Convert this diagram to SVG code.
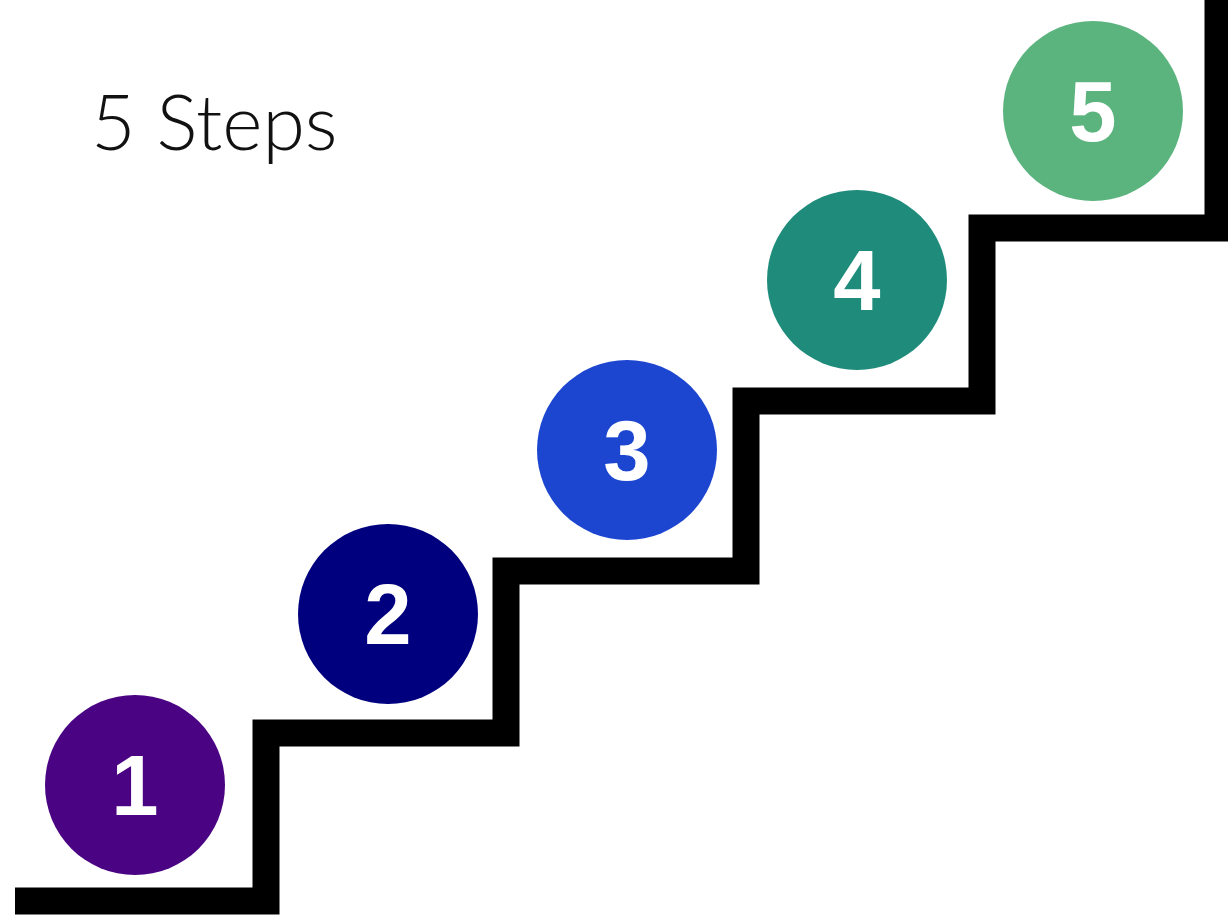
<svg xmlns="http://www.w3.org/2000/svg" width="1228" height="918" viewBox="0 0 1228 918">
<style>
.num{font-family:"Liberation Sans",Arial,sans-serif;font-weight:bold;font-size:85px;fill:#ffffff;text-anchor:middle}
.title{font-family:Lato,"Liberation Sans",sans-serif;font-weight:300;font-size:77px;fill:#111111}
</style>
<rect width="1228" height="918" fill="#ffffff"/>
<g id="stairs">
<path d="M15 901 H266 V733 H506 V571 H746 V401 H982 V228 H1218 V0" fill="none" stroke="#000000" stroke-width="27" stroke-linejoin="miter"/>
</g>
<text class="title" x="91" y="150">5 Steps</text>
<g id="step1"><circle cx="135" cy="785" r="90" fill="#4a0382"/><text class="num" x="135" y="815">1</text></g>
<g id="step2"><circle cx="388" cy="614" r="90" fill="#00007f"/><text class="num" x="388" y="644">2</text></g>
<g id="step3"><circle cx="627" cy="450" r="90" fill="#1c46d0"/><text class="num" x="627" y="480">3</text></g>
<g id="step4"><circle cx="857" cy="280" r="90" fill="#1f8c7b"/><text class="num" x="857" y="310">4</text></g>
<g id="step5"><circle cx="1093" cy="111" r="90" fill="#5bb37e"/><text class="num" x="1093" y="141">5</text></g>
</svg>
